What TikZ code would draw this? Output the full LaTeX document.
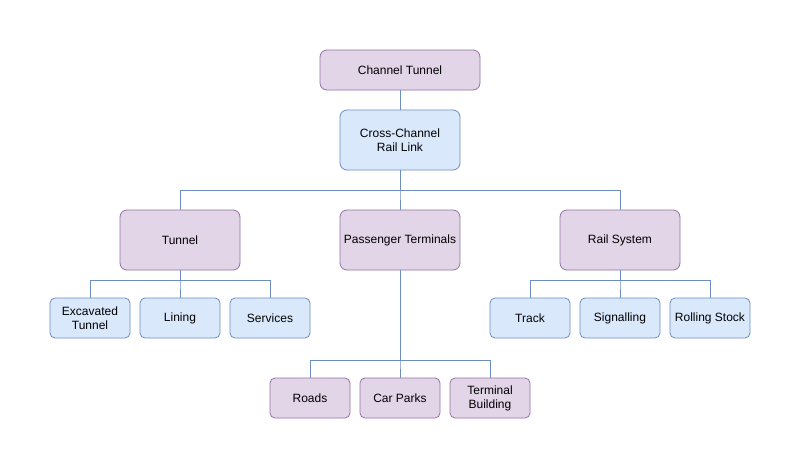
\documentclass[tikz,border=0pt]{standalone}
\usepackage{fontspec}
\setmainfont{Liberation Sans}
\usepackage{tikz}
\usetikzlibrary{positioning}
\definecolor{purplefill}{HTML}{E1D5E7}
\definecolor{purpleline}{HTML}{9673A6}
\definecolor{bluefill}{HTML}{DAE8FC}
\definecolor{blueline}{HTML}{6C8EBF}
\tikzset{box/.style={draw,line width=0.8pt,rounded corners=7pt,align=center,inner sep=0pt,font=\fontsize{12}{14}\selectfont}}
\tikzset{pbox/.style={box,fill=purplefill,draw=purpleline}}
\tikzset{bbox/.style={box,fill=bluefill,draw=blueline}}
\tikzset{big/.style={minimum width=120pt,minimum height=60pt}}
\tikzset{small/.style={minimum width=80pt,minimum height=40pt,rounded corners=5pt}}
\tikzset{link/.style={draw=blueline,line width=0.8pt}}

\begin{document}
\begin{tikzpicture}[x=1pt,y=-1pt]
	\useasboundingbox (0,0) rectangle (801,469);
	\fill[white] (0,0) rectangle (801,469);

	\node[pbox,minimum width=160pt,minimum height=40pt] (channel) at (400,70) {Channel Tunnel};
	\node[bbox,big] (raillink) at (400,140) {Cross-Channel\\ Rail Link};

	\node[pbox,big] (tunnel) at (180,240) {Tunnel};
	\node[pbox,big] (terminals) at (400,240) {Passenger Terminals};
	\node[pbox,big] (railsys) at (620,240) {Rail System};

	\node[bbox,small] (excavated) at (90,318) {Excavated\\Tunnel};
	\node[bbox,small] (lining) at (180,318) {Lining};
	\node[bbox,small] (services) at (270,318) {Services};

	\node[bbox,small] (track) at (530,318) {Track};
	\node[bbox,small] (signalling) at (620,318) {Signalling};
	\node[bbox,small] (stock) at (710,318) {Rolling Stock};

	\node[pbox,small] (roads) at (310,398) {Roads};
	\node[pbox,small] (carparks) at (400,398) {Car Parks};
	\node[pbox,small] (building) at (490,398) {Terminal\\Building};

	\draw[link] (channel) -- (raillink);
	\foreach \n in {tunnel,terminals,railsys}{
		\draw[link] (raillink.south) -- ++(0,20) -| (\n.north);
	}
	\foreach \n in {excavated,lining,services}{
		\draw[link] (tunnel.south) -- ++(0,10) -| (\n.north);
	}
	\foreach \n in {track,signalling,stock}{
		\draw[link] (railsys.south) -- ++(0,10) -| (\n.north);
	}
	\foreach \n in {roads,carparks,building}{
		\draw[link] (terminals.south) -- ++(0,90) -| (\n.north);
	}
\end{tikzpicture}
\end{document}
